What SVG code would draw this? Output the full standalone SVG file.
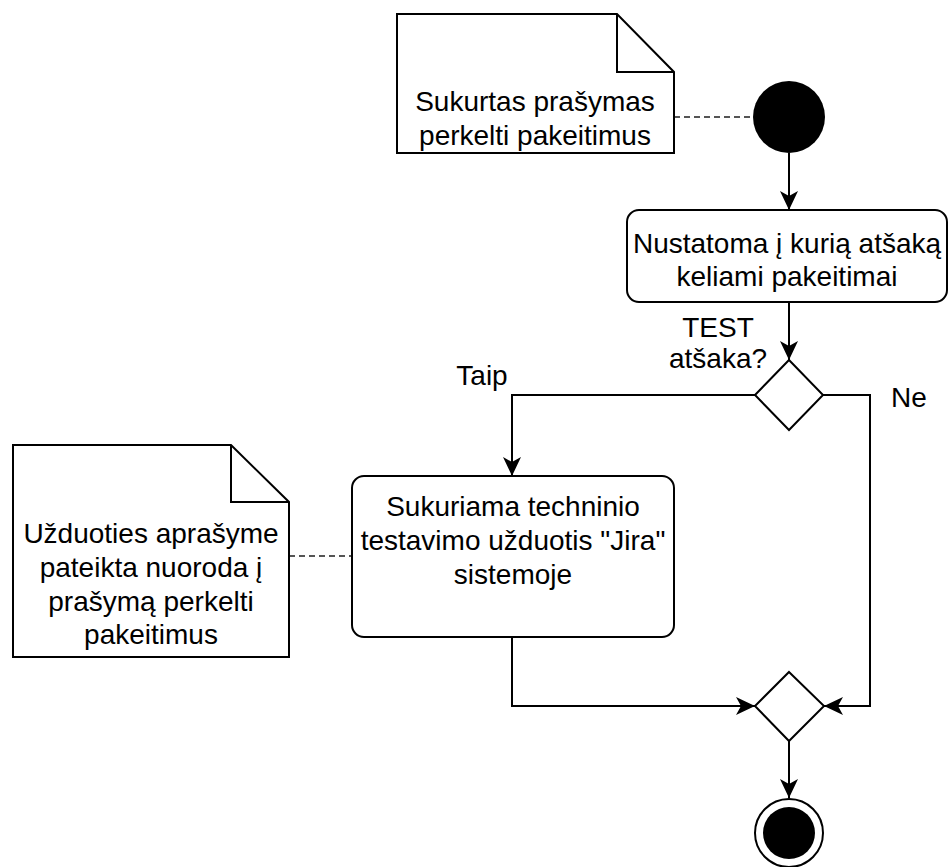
<svg xmlns="http://www.w3.org/2000/svg" width="950" height="867" viewBox="0 0 950 867">
  <style>
    .shape { fill: #ffffff; stroke: #000000; stroke-width: 2; }
    .line { fill: none; stroke: #000000; stroke-width: 2; }
    .dash { fill: none; stroke: #555555; stroke-width: 2; stroke-dasharray: 6 4; }
    .txt { font-family: "Liberation Sans", Arial, sans-serif; font-size: 28px; fill: #000000; text-anchor: middle; }
  </style>
  <defs>
    <marker id="arrow" markerUnits="userSpaceOnUse" markerWidth="20" markerHeight="20" refX="19" refY="10" orient="auto">
      <path d="M0,1 L19,10 L0,19 L5,10 Z" fill="#000000"/>
    </marker>
  </defs>
  <rect width="950" height="867" fill="#ffffff"/>

  <!-- connectors -->
  <g id="connectors">
    <path class="dash" d="M674,117 L753,117"/>
    <path class="dash" d="M289,556 L352,556"/>
    <path class="line" d="M789,153 L789,210" marker-end="url(#arrow)"/>
    <path class="line" d="M789,302 L789,360" marker-end="url(#arrow)"/>
    <path class="line" d="M755,395 L512,395 L512,476" marker-end="url(#arrow)"/>
    <path class="line" d="M823,395 L870,395 L870,706 L824,706" marker-end="url(#arrow)"/>
    <path class="line" d="M512,637 L512,706 L755,706" marker-end="url(#arrow)"/>
    <path class="line" d="M789,741 L789,798" marker-end="url(#arrow)"/>
    <text class="txt" x="718" y="337">TEST</text>
    <text class="txt" x="718" y="368">atšaka?</text>
    <text class="txt" x="482" y="385">Taip</text>
    <text class="txt" x="909" y="407">Ne</text>
  </g>

  <!-- request note -->
  <g id="note-request">
    <path class="shape" d="M397,14 L617,14 L674,72 L674,153 L397,153 Z"/>
    <path class="line" d="M617,14 L617,72 L674,72"/>
    <text class="txt" x="535" y="111">Sukurtas prašymas</text>
    <text class="txt" x="535" y="145">perkelti pakeitimus</text>
  </g>

  <!-- initial node -->
  <g id="start">
    <circle cx="789" cy="117" r="36" fill="#000000"/>
  </g>

  <!-- branch identification -->
  <g id="act-branch">
    <rect class="shape" x="627" y="210" width="320" height="92" rx="12" ry="12"/>
    <text class="txt" x="787" y="253">Nustatoma į kurią atšaką</text>
    <text class="txt" x="787" y="286">keliami pakeitimai</text>
  </g>

  <!-- decision -->
  <g id="decision">
    <path class="shape" d="M789,360 L823,395 L789,430 L755,395 Z"/>
  </g>

  <!-- Jira task -->
  <g id="act-jira">
    <rect class="shape" x="352" y="476" width="322" height="161" rx="12" ry="12"/>
    <text class="txt" x="513" y="516">Sukuriama techninio</text>
    <text class="txt" x="513" y="550">testavimo užduotis "Jira"</text>
    <text class="txt" x="513" y="584">sistemoje</text>
  </g>

  <!-- task description note -->
  <g id="note-task">
    <path class="shape" d="M13,445 L231,445 L289,502 L289,657 L13,657 Z"/>
    <path class="line" d="M231,445 L231,502 L289,502"/>
    <text class="txt" x="151" y="543">Užduoties aprašyme</text>
    <text class="txt" x="151" y="577">pateikta nuoroda į</text>
    <text class="txt" x="151" y="611">prašymą perkelti</text>
    <text class="txt" x="151" y="644">pakeitimus</text>
  </g>

  <!-- merge -->
  <g id="merge">
    <path class="shape" d="M789,672 L824,706 L789,741 L755,706 Z"/>
  </g>

  <!-- final node -->
  <g id="end">
    <circle cx="789" cy="833" r="34" fill="#ffffff" stroke="#000000" stroke-width="2"/>
    <circle cx="789" cy="833" r="26" fill="#000000"/>
  </g>
</svg>
